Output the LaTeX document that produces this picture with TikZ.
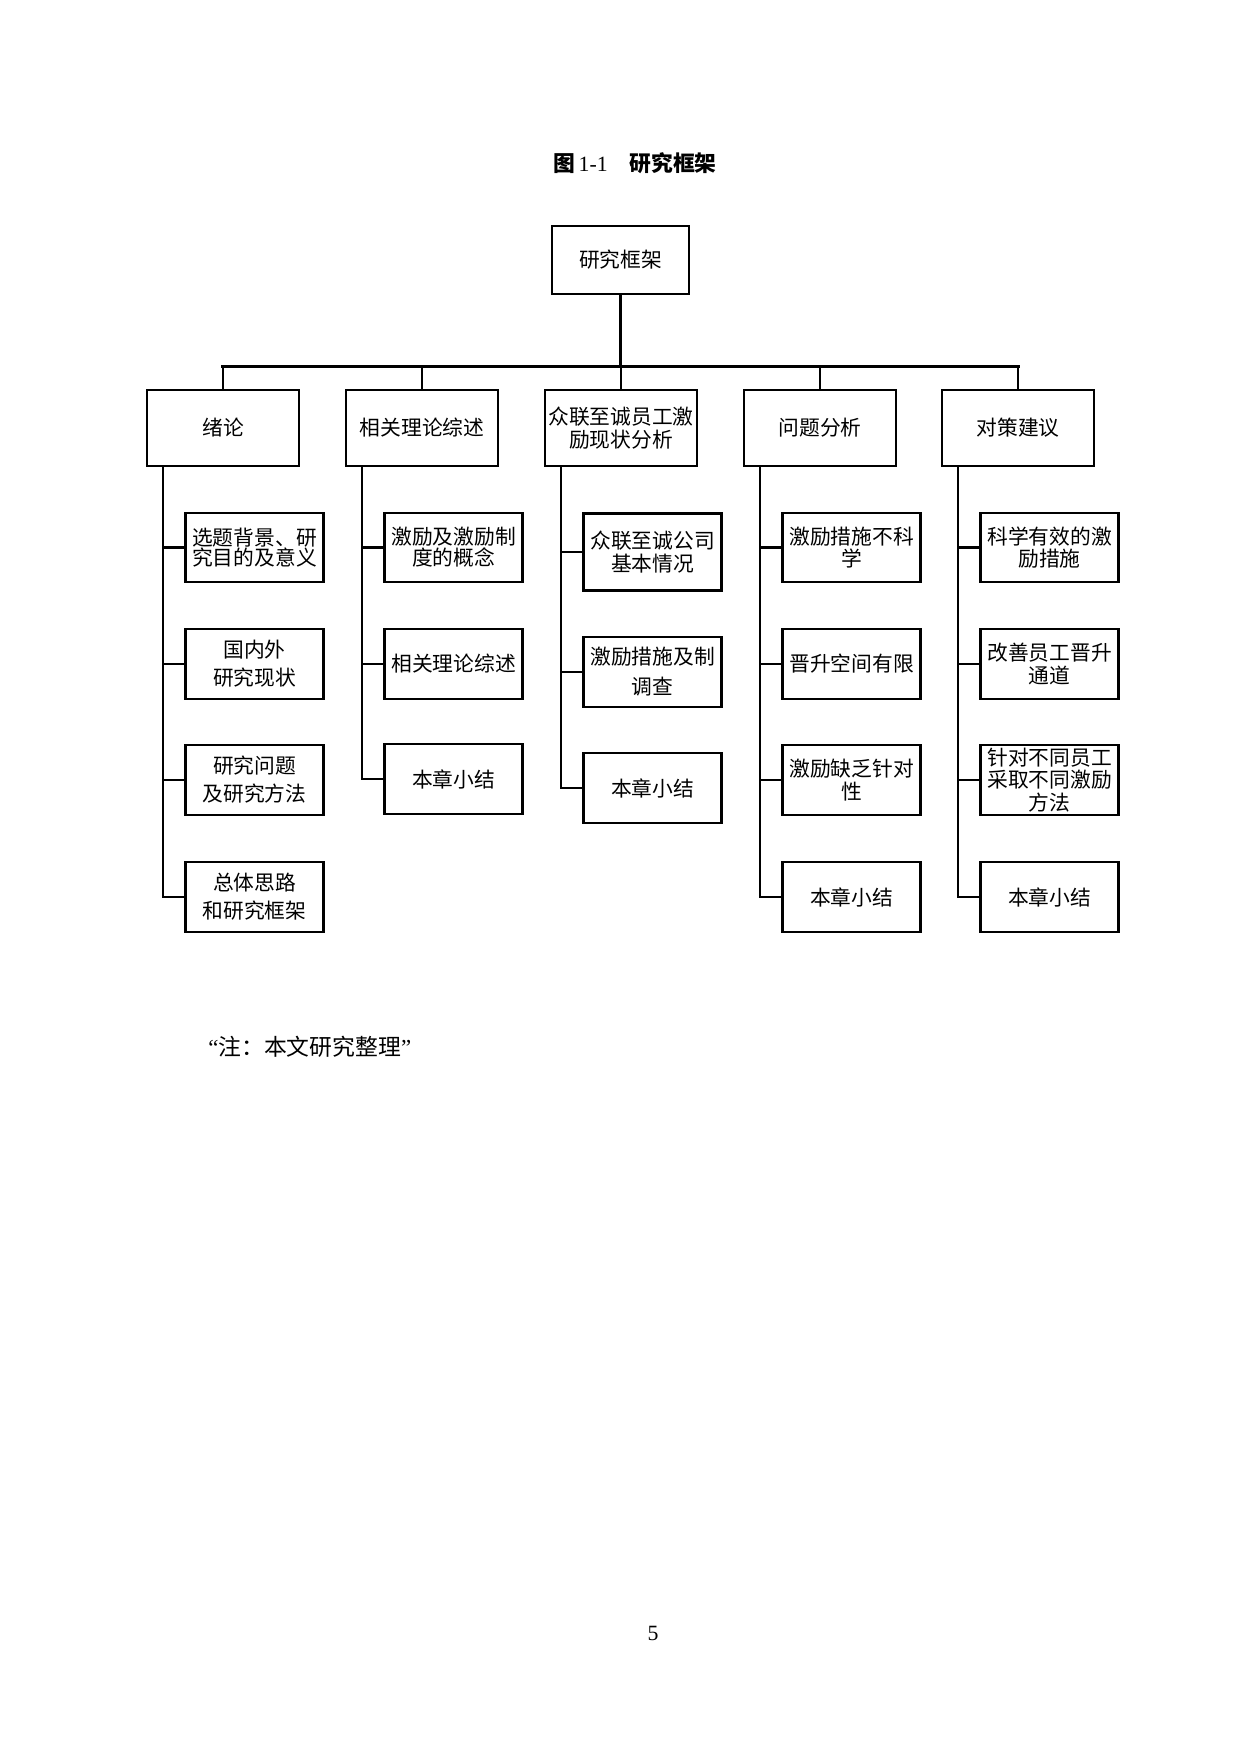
\documentclass[tikz,border=0pt]{standalone}
\usepackage{fontspec}
\setmainfont{Liberation Serif}
\newfontfamily\cjk{Noto Sans CJK SC}

\tikzset{
  topbox/.style={draw, line width=1pt, minimum width=2.32cm, minimum height=1.152cm, font=\cjk\fontsize{10}{12}\selectfont},
  catbox/.style={draw, line width=1pt, minimum width=2.574cm, minimum height=1.287cm, inner sep=1pt, align=center, font=\cjk\fontsize{10}{11}\selectfont},
  itembox/.style={draw, line width=1pt, minimum width=2.337cm, minimum height=1.177cm, inner sep=1pt, align=center, font=\cjk\fontsize{10}{11}\selectfont},
  busline/.style={line width=1.45pt, line cap=rect},
  link/.style={line width=1pt}
}

\begin{document}
\begin{tikzpicture}[x=0.016935cm, y=-0.016935cm]
  \useasboundingbox (0,0) rectangle (1240,1754);

  \node[font=\bfseries\fontsize{10.5}{12}\selectfont] (title) at (635,163) {{\cjk 图}\,{\mdseries 1-1}\quad{\cjk 研究框架}};

  \node[topbox] (top) at (620.5,260) {研究框架};

  % chapters
  \node[catbox] (c1) at (223,428) {绪论};
  \node[catbox] (c2) at (422,428) {相关理论综述};
  \node[catbox] (c3) at (621,428) {众联至诚员工激\\励现状分析};
  \node[catbox] (c4) at (820,428) {问题分析};
  \node[catbox] (c5) at (1018,428) {对策建议};

  \coordinate (busL) at (223,366);
  \coordinate (busR) at (1018,366);
  \draw[busline] (top.south) -- (top.south |- busL);
  \draw[busline] (busL) -- (busR);
  \foreach \c in {1,...,5}
    \draw[link] (c\c.north) -- (c\c.north |- busL);

  % sections of each chapter
  \node[itembox] (i1-1) at (254.5,547.5) {选题背景、研\\[-1pt]究目的及意义};
  \node[itembox] (i1-2) at (254.5,664) {国内外\\[2.5pt]研究现状};
  \node[itembox] (i1-3) at (254.5,780) {研究问题\\[2.5pt]及研究方法};
  \node[itembox] (i1-4) at (254.5,897) {总体思路\\[2.5pt]和研究框架};

  \node[itembox] (i2-1) at (453.5,547.5) {激励及激励制\\[-1pt]度的概念};
  \node[itembox] (i2-2) at (453.5,664) {相关理论综述};
  \node[itembox] (i2-3) at (453.5,779) {本章小结};

  \node[itembox, minimum height=1.304cm] (i3-1) at (652.5,552) {众联至诚公司\\基本情况};
  \node[itembox] (i3-2) at (652.5,672) {激励措施及制\\[3.5pt]调查};
  \node[itembox] (i3-3) at (652.5,788) {本章小结};

  \node[itembox] (i4-1) at (851.5,547.5) {激励措施不科\\学};
  \node[itembox] (i4-2) at (851.5,664) {晋升空间有限};
  \node[itembox] (i4-3) at (851.5,780) {激励缺乏针对\\性};
  \node[itembox] (i4-4) at (851.5,897) {本章小结};

  \node[itembox] (i5-1) at (1049.5,547.5) {科学有效的激\\励措施};
  \node[itembox] (i5-2) at (1049.5,664) {改善员工晋升\\通道};
  \node[itembox] (i5-3) at (1049.5,780) {针对不同员工\\采取不同激励\\方法};
  \node[itembox] (i5-4) at (1049.5,897) {本章小结};

  \foreach \c/\n in {1/4,2/3,3/3,4/4,5/4}
    \foreach \k in {1,...,\n}
      \draw[link] ([xshift=0.288cm]c\c.south west) |- (i\c-\k.west);

  \node[anchor=west, font=\fontsize{11}{13}\selectfont] (note) at (201,1047) {“{\cjk 注：本文研究整理}”};

  \node[font=\fontsize{10.5}{12}\selectfont] (page) at (653,1633) {5};
\end{tikzpicture}
\end{document}
